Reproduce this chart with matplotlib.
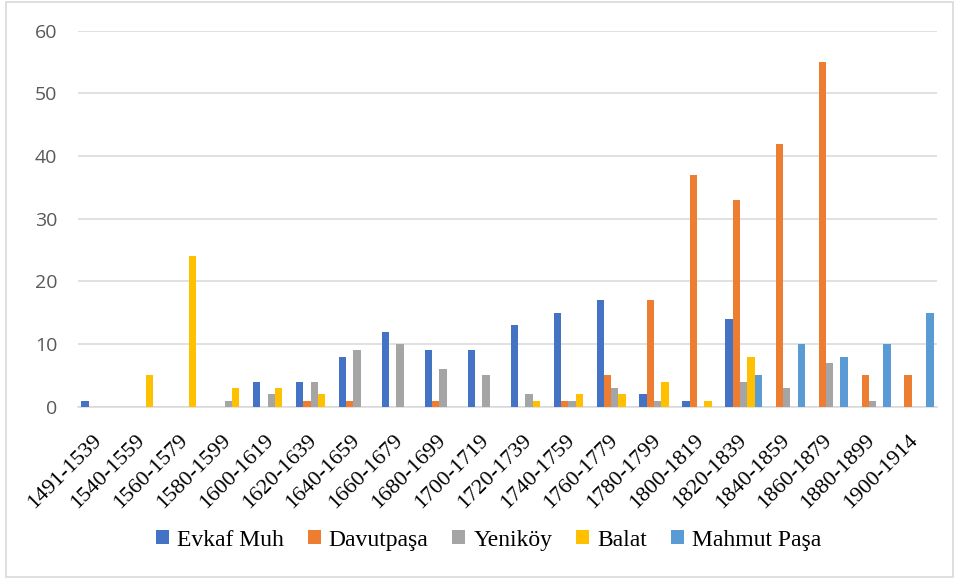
import matplotlib
matplotlib.use("Agg")
import matplotlib.pyplot as plt
import numpy as np
from matplotlib.patches import Rectangle

categories = ["1491-1539", "1540-1559", "1560-1579", "1580-1599", "1600-1619",
              "1620-1639", "1640-1659", "1660-1679", "1680-1699", "1700-1719",
              "1720-1739", "1740-1759", "1760-1779", "1780-1799", "1800-1819",
              "1820-1839", "1840-1859", "1860-1879", "1880-1899", "1900-1914"]
evkaf    = [1, 0, 0, 0, 4, 4, 8, 12, 9, 9, 13, 15, 17, 2, 1, 14, 0, 0, 0, 0]
davut    = [0, 0, 0, 0, 0, 1, 1, 0, 1, 0, 0, 1, 5, 17, 37, 33, 42, 55, 5, 5]
yenikoy  = [0, 0, 0, 1, 2, 4, 9, 10, 6, 5, 2, 1, 3, 1, 0, 4, 3, 7, 1, 0]
balat    = [0, 5, 24, 3, 3, 2, 0, 0, 0, 0, 1, 2, 2, 4, 1, 8, 0, 0, 0, 0]
mahmut   = [0, 0, 0, 0, 0, 0, 0, 0, 0, 0, 0, 0, 0, 0, 0, 5, 10, 8, 10, 15]
series_names = ["Evkaf Muh", "Davutpaşa", "Yeniköy", "Balat", "Mahmut Paşa"]
yticks = [0, 10, 20, 30, 40, 50, 60]

colors = ["#4472C4", "#ED7D31", "#A5A5A5", "#FFC000", "#5B9BD5"]
series = [evkaf, davut, yenikoy, balat, mahmut]

fig = plt.figure(figsize=(9.56, 5.79), dpi=100)
ax = fig.add_axes([0.0816, 0.2974, 0.980 - 0.0816, 0.947 - 0.2974])

x = np.arange(len(categories))
w = 0.17
for i, (vals, name, c) in enumerate(zip(series, series_names, colors)):
    ax.bar(x + (i - 2) * w, vals, width=w, color=c, label=name, zorder=3)

ax.set_xlim(-0.5, len(categories) - 0.5)
ax.set_ylim(0, 60)
ax.set_yticks(yticks)
ax.yaxis.grid(True, color="#D9D9D9", linewidth=1.1, zorder=0)
ax.set_axisbelow(True)
for s in ["top", "right", "left"]:
    ax.spines[s].set_visible(False)
ax.spines["bottom"].set_color("#D9D9D9")
ax.spines["bottom"].set_linewidth(1.1)
ax.tick_params(axis="both", length=0)
ax.tick_params(axis="y", pad=15)
for lab in ax.get_yticklabels():
    lab.set_fontfamily("Open Sans")
    lab.set_fontsize(14)
    lab.set_color("#595959")

ax.set_xticks(x)
ax.set_xticklabels(categories, rotation=45, ha="right", va="center",
                   rotation_mode="anchor", fontfamily="Liberation Serif",
                   fontsize=16, color="#000000")
ax.tick_params(axis="x", pad=22)

leg = fig.legend(loc="center", bbox_to_anchor=(0.511, 0.067), ncol=5, frameon=False,
                 prop={"family": "Liberation Serif", "size": 17},
                 handlelength=0.55, handleheight=0.55, handletextpad=0.35,
                 columnspacing=1.0)

fig.patches.append(Rectangle((0.006, 0.003), 0.991, 0.994, transform=fig.transFigure,
                             fill=False, edgecolor="#D9D9D9", linewidth=1.2))

fig.savefig("out.png", dpi=100)
